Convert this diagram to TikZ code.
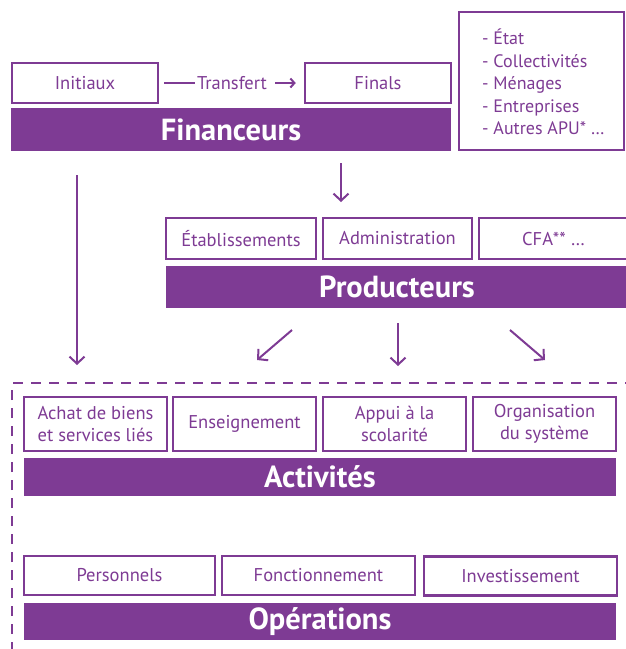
\documentclass[tikz,border=0pt]{standalone}
\usepackage{fontspec}
\setmainfont{PT Sans}
\usetikzlibrary{arrows.meta}
\definecolor{pur}{RGB}{126,59,148}
\begin{document}
\begin{tikzpicture}[x=1pt,y=-1pt,
 box/.style={draw=pur, line width=2.5pt, fill=white, text=pur, font=\fontsize{18.5}{21.5}\selectfont, inner sep=0pt, align=center},
 bar/.style={fill=pur, text=white, font=\fontsize{30.5}{32}\selectfont\bfseries, inner sep=0pt},
 arr/.style={draw=pur, line width=2pt, -{Straight Barb[length=7pt,width=15pt,line width=2pt]}},
 dashline/.style={draw=pur, line width=2.5pt, dash pattern=on 10pt off 8pt}
]
\useasboundingbox (0,0) rectangle (626,649);
% Financeurs
\node[box, minimum width=146, minimum height=40] (ini) at (85,83) {Initiaux};
\node[box, minimum width=146, minimum height=40] (fina) at (378,83) {Finals};
\node[bar, minimum width=440, minimum height=43] (fin) at (231,129.5) {Financeurs};
\node[box, minimum width=165, minimum height=138] (lst) at (541.5,81) {};
\node[text=pur, font=\fontsize{18}{22.5}\selectfont, align=left, anchor=west, inner sep=0pt] (lsttxt) at (482,82) {- État\\- Collectivités\\- Ménages\\- Entreprises\\- Autres APU* \dots};
\node[text=pur, font=\fontsize{18.5}{20}\selectfont, inner sep=2pt] (tr) at (232,83) {Transfert};
\draw[draw=pur, line width=2pt] ([xshift=5pt]ini.east) -- (tr.west);
\draw[draw=pur, line width=2pt, -{Straight Barb[length=4pt,width=9pt,line width=2pt]}] ([xshift=6pt]tr.east) -- ([xshift=-8pt]fina.west);
% Producteurs
\node[box, minimum width=150, minimum height=41] (eta) at (241,238.5) {Établissements};
\node[box, minimum width=149, minimum height=41] (adm) at (397.5,238.5) {Administration};
\node[box, minimum width=149, minimum height=41] (cfa) at (553.5,238.5) {CFA** \dots};
\node[bar, minimum width=462, minimum height=42] (pro) at (397,287) {Producteurs};
% arrows
\coordinate (a1s) at (341,163);
\coordinate (a1e) at (341,202);
\draw[arr] (a1s) -- (a1e);
\coordinate (a0s) at (77,175);
\coordinate (a0e) at (77,365);
\draw[arr] (a0s) -- (a0e);
\coordinate (a2s) at (292,330);
\coordinate (a2e) at (257,360);
\draw[arr] (a2s) -- (a2e);
\coordinate (a3s) at (398,323);
\coordinate (a3e) at (398,366);
\draw[arr] (a3s) -- (a3e);
\coordinate (a4s) at (510,330);
\coordinate (a4e) at (545,360);
\draw[arr] (a4s) -- (a4e);
% dashed frame
\coordinate (d1) at (12,652);
\coordinate (d2) at (12,383);
\coordinate (d3) at (632,383);
\draw[dashline] (d1) -- (d2) -- (d3);
% Activites
\node[box, minimum width=143, minimum height=54] (ach) at (95.5,424) {Achat de biens\\et services liés};
\node[box, minimum width=143, minimum height=54] (ens) at (244.5,424) {Enseignement};
\node[box, minimum width=143, minimum height=54] (app) at (394.5,424) {Appui à la\\scolarité};
\node[box, minimum width=143, minimum height=54] (org) at (544.5,424) {Organisation\\du système};
\node[bar, minimum width=592, minimum height=38] (act) at (320,477) {Activités};
% Operations
\node[box, minimum width=191, minimum height=39] (per) at (119.5,575.5) {Personnels};
\node[box, minimum width=193, minimum height=39] (fon) at (318.5,575.5) {Fonctionnement};
\node[box, minimum width=193, minimum height=39] (inv) at (520.5,576) {Investissement};
\node[bar, minimum width=592, minimum height=37] (ope) at (320,621.5) {Opérations};
\end{tikzpicture}
\end{document}
